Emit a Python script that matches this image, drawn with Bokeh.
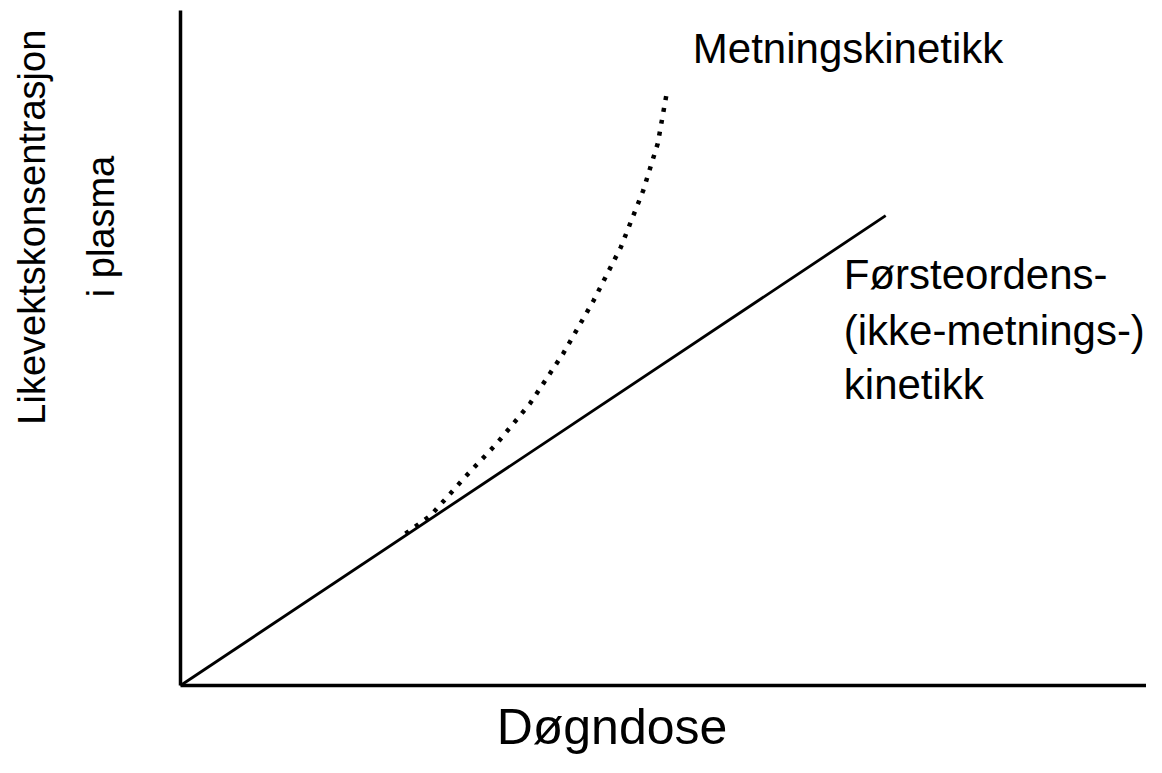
from bokeh.plotting import figure
from bokeh.models import Range1d
from bokeh.core.properties import value
from bokeh.embed import file_html
from bokeh.resources import INLINE
import math

# Data (schematic units)
linear_x = [0.0, 72.4]
linear_y = [0.0, 69.6]

saturation_x = [23.1, 25.7, 29.1, 32.5, 35.9, 39.3, 42.4, 45.2, 47.5, 49.0, 50.0]
saturation_y = [22.5, 25.2, 30.7, 35.9, 41.8, 49.2, 57.0, 64.9, 73.3, 80.3, 88.4]

x_title = "Døgndose"
y_title_lines = ["Likevektskonsentrasjon", "i plasma"]
saturation_label = "Metningskinetikk"
linear_label_lines = ["Førsteordens-", "(ikke-metnings-)", "kinetikk"]

FONT = "Liberation Sans"

W, H = 1146, 757
X0_PX, Y0_PX = 180, 685          # pixel position of the data origin
SX, SY = 9.74, 6.75              # pixels per data unit
x_start, x_end = -X0_PX / SX, (W - X0_PX) / SX
y_start, y_end = -(H - Y0_PX) / SY, Y0_PX / SY

p = figure(width=W, height=H, output_backend="svg", toolbar_location=None,
           x_range=Range1d(x_start, x_end), y_range=Range1d(y_start, y_end),
           x_axis_location=None, y_axis_location=None,
           min_border=0, min_border_left=0, min_border_right=0,
           min_border_top=0, min_border_bottom=0)
p.outline_line_color = None
p.xgrid.visible = False
p.ygrid.visible = False
p.background_fill_color = "white"
p.border_fill_color = "white"

# axis lines (origin to the ends of the drawing area)
p.line([0, x_end], [0, 0], line_color="black", line_width=3.5)
p.line([0, 0], [0, 100], line_color="black", line_width=3.5)

p.line(linear_x, linear_y, line_color="black", line_width=2.8)
p.line(saturation_x, saturation_y, line_color="black", line_width=4.5,
       line_dash="4 8")

def txt(x, y, s, size, align="left", baseline="alphabetic", angle=0.0):
    p.text(x=[x], y=[y], text=[s], text_font=value(FONT), text_font_size=value(size),
           text_color="black", text_align=align, text_baseline=baseline, angle=angle)

txt(52.6, 94.4, saturation_label, "42px")
for t, yy in zip(linear_label_lines, [60.9, 52.6, 44.6]):
    txt(68.1, yy, t, "42px")

txt(44.3, -6.1, x_title, "50px", align="center")

txt(-15.2, 67.9, y_title_lines[0], "38px", align="center", baseline="middle", angle=math.pi / 2)
txt(-8.2, 68.0, y_title_lines[1], "38px", align="center", baseline="middle", angle=math.pi / 2)

open("out.html", "w").write(file_html(p, INLINE))
